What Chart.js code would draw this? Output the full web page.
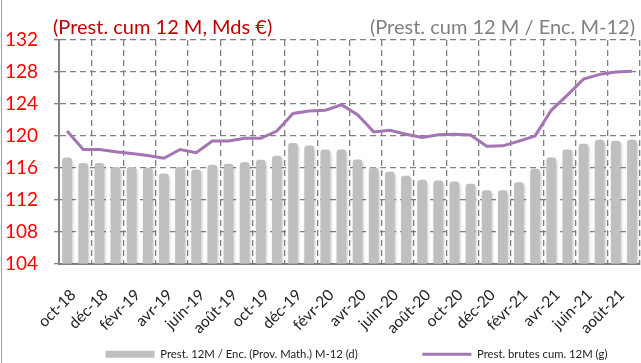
<!DOCTYPE html>
<html lang="fr">
<head>
<meta charset="utf-8">
<title>Prestations cumulées 12 mois</title>
<script src="https://cdn.jsdelivr.net/npm/chart.js@4.4.1/dist/chart.umd.min.js"></script>
<style>
  html, body { margin: 0; padding: 0; background: #fff; overflow: hidden; }
  #wrap { position: relative; width: 641px; height: 363px; }
  #edge { position: absolute; left: 1px; top: 0; width: 1px; height: 363px; background: #a0a0a0; }
</style>
</head>
<body>
<div id="wrap">
  <canvas id="chart" width="641" height="363"></canvas>
  <div id="edge"></div>
</div>
<script>
// ─── données ─────────────────────────────────────────
const MONTHS = [
  'oct-18', 'nov-18', 'déc-18', 'janv-19', 'févr-19', 'mars-19',
  'avr-19', 'mai-19', 'juin-19', 'juil-19', 'août-19', 'sept-19',
  'oct-19', 'nov-19', 'déc-19', 'janv-20', 'févr-20', 'mars-20',
  'avr-20', 'mai-20', 'juin-20', 'juil-20', 'août-20', 'sept-20',
  'oct-20', 'nov-20', 'déc-20', 'janv-21', 'févr-21', 'mars-21',
  'avr-21', 'mai-21', 'juin-21', 'juil-21', 'août-21', 'sept-21',
];

// Prest. 12M / Enc. (Prov. Math.) M-12 — axe droit (d)
const RATIO_M12 = [
  117.3, 116.6, 116.6, 116.1, 116.1, 116.0, 115.3, 116.1, 115.8, 116.4, 116.5, 116.7,
  117.0, 117.5, 119.1, 118.8, 118.3, 118.3, 117.05, 116.05, 115.5, 115.0, 114.5, 114.4,
  114.3, 114.0, 113.2, 113.2, 114.2, 115.9, 117.3, 118.3, 119.0, 119.5, 119.4, 119.5,
];

// Prest. brutes cum. 12M, Mds € — axe gauche (g)
const PREST_CUM = [
  120.6, 118.3, 118.3, 118.0, 117.8, 117.55, 117.2, 118.3, 117.9, 119.35, 119.35, 119.7,
  119.7, 120.6, 122.8, 123.1, 123.2, 123.9, 122.65, 120.5, 120.7, 120.2, 119.8, 120.15,
  120.2, 120.1, 118.7, 118.75, 119.35, 120.0, 123.2, 125.1, 127.1, 127.7, 128.0, 128.1,
];

const Y_MIN = 104, Y_MAX = 132, Y_STEP = 4;

const LEFT_TITLE  = '(Prest. cum 12 M, Mds €)';
const RIGHT_TITLE = '(Prest. cum 12 M / Enc. M-12)';
const BAR_LABEL   = 'Prest. 12M / Enc. (Prov. Math.) M-12 (d)';
const LINE_LABEL  = 'Prest. brutes cum. 12M (g)';

// ─── styles ──────────────────────────────────────────
const FONT      = 'Lato, "Open Sans", sans-serif';
const GRID_GRAY = '#808080';
const BAR_GRAY  = '#bfbfbf';
const PURPLE    = '#a474b4';
const NONE      = 'rgba(0,0,0,0)';

// titres des deux axes, posés au-dessus de la zone de tracé
const axisTitles = {
  id: 'axisTitles',
  afterDraw(chart) {
    const { ctx, chartArea } = chart;
    ctx.save();
    ctx.font = `20px ${FONT}`;
    ctx.textBaseline = 'middle';
    ctx.fillStyle = '#c00000';
    ctx.textAlign = 'left';
    ctx.fillText(LEFT_TITLE, chartArea.left - 6, 28);
    ctx.fillStyle = '#808080';
    ctx.textAlign = 'right';
    ctx.fillText(RIGHT_TITLE, chartArea.right - 5, 28);
    ctx.restore();
  },
};

// ombre légère sous les barres
const barShadow = {
  id: 'barShadow',
  beforeDatasetDraw(chart, args) {
    if (args.meta.type !== 'bar') return;
    const ctx = chart.ctx;
    ctx.save();
    ctx.shadowColor = 'rgba(0,0,0,0.22)';
    ctx.shadowBlur = 3;
    ctx.shadowOffsetX = 1;
    ctx.shadowOffsetY = 2;
  },
  afterDatasetDraw(chart, args) {
    if (args.meta.type !== 'bar') return;
    chart.ctx.restore();
  },
};

// légende : barre, espace vide, courbe
function legendItems() {
  return [
    { text: BAR_LABEL, fillStyle: BAR_GRAY, strokeStyle: BAR_GRAY, lineWidth: 0, pointStyle: 'rect', datasetIndex: 0 },
    { text: '', fillStyle: NONE, strokeStyle: NONE, lineWidth: 0, pointStyle: 'rect' },
    { text: LINE_LABEL, fillStyle: PURPLE, strokeStyle: PURPLE, lineWidth: 3, pointStyle: 'line', datasetIndex: 1 },
  ].map(it => ({ ...it, fontColor: '#222', hidden: false }));
}

new Chart(document.getElementById('chart').getContext('2d'), {
  type: 'bar',
  data: {
    labels: MONTHS,
    datasets: [
      {
        type: 'bar',
        label: BAR_LABEL,
        data: RATIO_M12,
        yAxisID: 'y1',
        backgroundColor: BAR_GRAY,
        borderWidth: 0,
        borderRadius: { topLeft: 3, topRight: 3 },
        borderSkipped: 'bottom',
        categoryPercentage: 1,
        barPercentage: 0.6,
        order: 1,
      },
      {
        type: 'line',
        label: LINE_LABEL,
        data: PREST_CUM,
        yAxisID: 'y',
        borderColor: PURPLE,
        backgroundColor: PURPLE,
        borderWidth: 3,
        pointRadius: 0,
        tension: 0,
        order: 0,
      },
    ],
  },
  options: {
    responsive: false,
    animation: false,
    layout: { padding: { left: 0, right: -72, top: 40, bottom: -7 } },
    plugins: {
      title: { display: false },
      tooltip: { enabled: false },
      legend: {
        position: 'bottom',
        align: 'center',
        labels: {
          color: '#222',
          font: { family: FONT, size: 11.3 },
          usePointStyle: true,
          pointStyleWidth: 49,
          boxHeight: 7,
          padding: 5,
          generateLabels: legendItems,
        },
      },
    },
    scales: {
      x: {
        offset: true,
        afterFit: s => { s.height = 80; s.paddingLeft = 0; s.paddingRight = 0; },
        grid: {
          offset: true,
          drawTicks: false,
          lineWidth: 1.3,
          color: c => (c.type === 'tick' && c.index % 2 === 1) ? NONE : GRID_GRAY,
        },
        border: { display: true, color: GRID_GRAY, width: 2, dash: [6, 4] },
        ticks: {
          autoSkip: false,
          minRotation: 45,
          maxRotation: 45,
          padding: 22,
          labelOffset: 6,
          color: '#222',
          font: { family: FONT, size: 15.5 },
          callback: (v, i) => (i % 2 === 0 ? MONTHS[i] : ''),
        },
      },
      y: {
        position: 'left',
        min: Y_MIN,
        max: Y_MAX,
        afterFit: s => { s.width = 59; },
        grid: {
          lineWidth: 1.3,
          color: GRID_GRAY,
          tickLength: 5,
          tickColor: GRID_GRAY,
          tickBorderDash: [],
        },
        border: { display: true, color: GRID_GRAY, width: 2, dash: [6, 4] },
        ticks: {
          stepSize: Y_STEP,
          padding: 16,
          color: '#ff0000',
          font: { family: FONT, size: 19 },
        },
      },
      y1: {
        position: 'right',
        min: Y_MIN,
        max: Y_MAX,
        afterFit: s => { s.width = 73; },
        grid: { display: false, drawOnChartArea: false },
        border: { display: false },
        ticks: { display: false, stepSize: Y_STEP },
      },
    },
  },
  plugins: [axisTitles, barShadow],
});
</script>
</body>
</html>
